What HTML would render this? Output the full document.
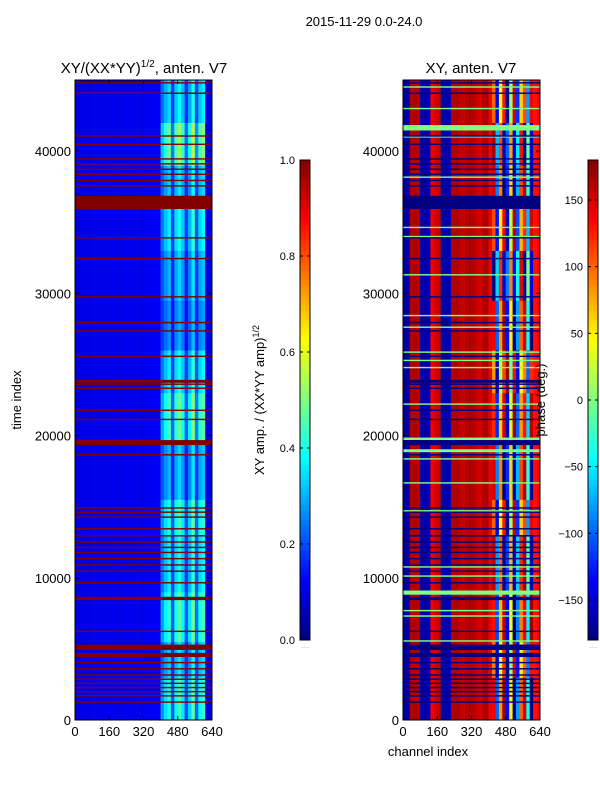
<!DOCTYPE html>
<html><head><meta charset="utf-8"><style>
body{margin:0;background:#fff;font-family:"Liberation Sans","DejaVu Sans",sans-serif;}
svg text{font-family:"Liberation Sans","DejaVu Sans",sans-serif;}
</style></head><body>
<svg id="fig" width="600" height="800" viewBox="0 0 600 800" xmlns="http://www.w3.org/2000/svg">
<rect width="600" height="800" fill="#fff"/>
<text x="364" y="26" font-size="13" text-anchor="middle">2015-11-29 0.0-24.0</text>
<text x="144" y="73" font-size="15" text-anchor="middle">XY/(XX*YY)<tspan font-size="10" dy="-6">1/2</tspan><tspan dy="6">, anten. V7</tspan></text>
<text x="471" y="73" font-size="15" text-anchor="middle">XY, anten. V7</text>
<text x="428" y="756" font-size="13" text-anchor="middle">channel index</text>
<text transform="translate(21,400) rotate(-90)" font-size="13" text-anchor="middle">time index</text>
<text transform="translate(264,400) rotate(-90)" font-size="13" text-anchor="middle">XY amp. / (XX*YY amp)<tspan font-size="9" dy="-5">1/2</tspan></text>
<g id="left"></g>
<g id="right"></g>
<g id="cbars"></g>
<g id="axes"></g>
<text transform="translate(545,400) rotate(-90)" font-size="13" text-anchor="middle">phase (deg.)</text>
</svg>
<script>
const NS="http://www.w3.org/2000/svg";
// ---- data ----
const tMax=45000, chMax=640, blockCh=16;
const yTicks=[0,10000,20000,30000,40000];
const xTicks=[0,160,320,480,640];
const ampTicks=[0.0,0.2,0.4,0.6,0.8,1.0];
const phaseTicks=[-150,-100,-50,0,50,100,150];
// amplitude per 16-channel block (40 blocks)
const ampCols=[0.09,0.1,0.1,0.1,0.1,0.1,0.11,0.1,0.1,0.11,0.1,0.11,0.1,0.1,0.11,0.1,0.11,0.1,0.11,0.1,
0.11,0.11,0.12,0.11,0.12,0.26,0.33,0.38,0.2,0.36,0.42,0.34,0.19,0.32,0.44,0.22,0.36,0.4,0.1,0.09];
// time bands and gain on the bright region
const rowEdges=[0,3000,5500,9000,13000,15500,19500,23000,26000,29500,33000,36000,39000,42000,45000];
const rowGain=[1.05,0.85,1.1,0.95,1.05,0.8,1.15,0.95,0.7,0.8,0.95,0.85,1.25,0.9];
// phase per 16-channel block (deg)
const phaseCols=[-170,-165,160,165,160,-165,-165,-160,140,150,155,-165,-165,-160,160,165,160,155,160,165,
160,155,150,160,165,140,120,-120,60,150,-150,30,170,-100,80,130,-60,160,130,135];
const rowShift=[20,-30,10,40,-20,30,0,-40,20,60,-10,30,50,-20];
// flagged rows (left: dark red, right: navy)
const flagged=[[44750,44850],[44020,44120],[41013,41113],[40428,40528],[39400,39500],[39055,39155],[38675,38775],[38322,38422],[37886,37986],[37506,37606],[35928,36858],[33851,33951],[32393,32493],[29703,29803],[27894,27994],[27309,27409],[25520,25620],[23711,23915],[23563,23663],[23274,23374],[21725,21825],[21084,21184],[19330,19682],[18598,18698],[14859,14959],[14563,14663],[14218,14318],[13394,13494],[12901,13001],[12464,12564],[12084,12184],[11732,11832],[11295,11395],[10852,10952],[10415,10515],[9598,9698],[8429,8662],[6183,6283],[4922,5303],[4429,4718],[3986,4086],[3549,3649],[3113,3213],[2817,2917],[2528,2628],[2232,2332],[1944,2044],[1648,1748],[1211,1311]];
// zero-phase (green) rows in right panel
const greenRows=[[44457,44557],[42943,43043],[41450,41830],[40950,41050],[38118,38218],[34583,34683],[33942,34042],[31252,31352],[28386,28486],[27569,27669],[25816,25916],[25232,25332],[24731,24831],[22161,22261],[19682,19858],[18830,19035],[18309,18409],[16619,16719],[14654,14754],[10711,10811],[10070,10170],[8810,9105],[7641,7741],[7260,7360],[5507,5607]];

// ---- helpers ----
function jet(v){v=Math.max(0,Math.min(1,v));
 const f=x=>Math.round(255*Math.max(0,Math.min(1,1.5-Math.abs(4*v-x))));
 return `rgb(${f(3)},${f(2)},${f(1)})`;}
const yT=t=>720-(t/tMax)*640;
function mk(par,tag,at){const e=document.createElementNS(NS,tag);for(const k in at)e.setAttribute(k,at[k]);par.appendChild(e);return e;}
function panel(gid,x0,valFn,flagColor,extra){
 const g=document.getElementById(gid);
 const xS=ch=>x0+ch/chMax*137;
 for(let r=0;r<rowGain.length;r++){
  for(let c=0;c<ampCols.length;c++){
   const rc=mk(g,'rect',{x:xS(c*blockCh),y:yT(rowEdges[r+1]),width:xS((c+1)*blockCh)-xS(c*blockCh)+0.3,height:yT(rowEdges[r])-yT(rowEdges[r+1])+0.3,fill:jet(valFn(r,c))});
   
   
  }}
 if(extra)extra.forEach(f=>{const l=mk(g,'rect',{x:x0,y:yT(f[1]),width:137,height:Math.max(1.2,yT(f[0])-yT(f[1])),fill:'#80ff80'});
   
   });
 flagged.forEach(f=>{const l=mk(g,'rect',{x:x0,y:yT(f[1]),width:137,height:Math.max(1.2,yT(f[0])-yT(f[1])),fill:flagColor});
   
   });
}
panel('left',75,(r,c)=>ampCols[c]>0.18?ampCols[c]*rowGain[r]:ampCols[c],'#800000');
panel('right',403,(r,c)=>{let p=phaseCols[c];if(c>=26&&c<=37)p+=rowShift[r];p=((p+180)%360+360)%360-180;return (p+180)/360;},'#000080',greenRows);

const ax=document.getElementById('axes');
function frame(x0){
 mk(ax,'rect',{x:x0,y:80,width:137,height:640,fill:'none',stroke:'#000','stroke-width':1});
 xTicks.forEach(v=>{const x=x0+v/chMax*137;
  mk(ax,'line',{x1:x,x2:x,y1:720,y2:716,stroke:'#000'});mk(ax,'line',{x1:x,x2:x,y1:80,y2:84,stroke:'#000'});
  const t=mk(ax,'text',{x:x,y:736,'font-size':13,'text-anchor':'middle'});t.textContent=v;
  
  });
 yTicks.forEach(v=>{const y=yT(v);
  mk(ax,'line',{x1:x0,x2:x0+4,y1:y,y2:y,stroke:'#000'});mk(ax,'line',{x1:x0+133,x2:x0+137,y1:y,y2:y,stroke:'#000'});
  const t=mk(ax,'text',{x:x0-4,y:y+5,'font-size':13,'text-anchor':'end'});t.textContent=v;
  
  });
}
frame(75);frame(403);

const cb=document.getElementById('cbars');
function cbar(x0,ticks,lo,hi,name){
 for(let i=0;i<96;i++){const v=i/96;mk(cb,'rect',{x:x0,y:640-(i+1)*5,width:10,height:5.3,fill:jet(v+0.005)});}
 mk(cb,'rect',{x:x0,y:160,width:10,height:480,fill:'none',stroke:'#000'});
 ticks.forEach(v=>{const y=640-(v-lo)/(hi-lo)*480;
  mk(cb,'line',{x1:x0,x2:x0+3,y1:y,y2:y,stroke:'#000'});mk(cb,'line',{x1:x0+7,x2:x0+10,y1:y,y2:y,stroke:'#000'});
  const t=mk(cb,'text',{x:x0-5,y:y+4,'font-size':11,'text-anchor':'end'});
  t.textContent=(name==='amp'?v.toFixed(1):(v<0?'\u2212'+(-v):v));
  
  });
 const d=mk(cb,'text',{x:x0+5,y:648,'font-size':5,'text-anchor':'middle',fill:'#888'});d.textContent='......';
}
cbar(300,ampTicks,0,1,'amp');
cbar(588,phaseTicks,-180,180,'phase');
</script>
</body></html>
